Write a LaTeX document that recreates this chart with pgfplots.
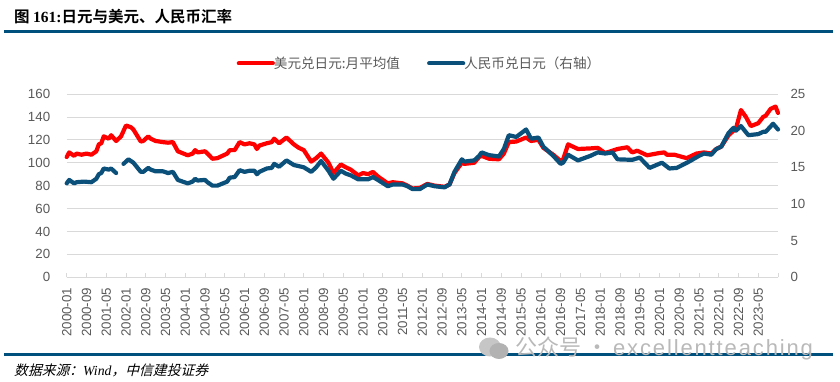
\documentclass[border=0pt]{standalone}
\usepackage{fontspec}
\setmainfont{Liberation Sans}
\newfontfamily\cjk{Noto Sans CJK SC}
\newfontfamily\cjkb{Noto Sans CJK SC Bold}
\newfontfamily\cjki[FakeSlant=0.25]{Noto Sans CJK SC}
\newfontfamily\seri{Liberation Serif}
\usepackage{pgfplots}
\usepackage{pgfplotstable}
\pgfplotsset{compat=1.18}
\definecolor{rulec}{HTML}{00507D}
\definecolor{bluec}{HTML}{0B4F7B}
\definecolor{gridc}{HTML}{D9D9D9}
\definecolor{textc}{HTML}{595959}
\pgfplotstableread{
m v
0 105
1 109
3 106
4 108
6 107
8 108
10 107
12 110
13 116
14 117
15 123
17 121
18 124
20 119
22 123
24 132.5
26 131
27 129
30 118.5
31 119
33 123
34 121
36 119
39 118
41 117.5
43 118
45 110
49 106.5
51 108
52 111
53 109
56 110
57 108
59 103.5
61 104
65 108
66 111
68 111
70 118
72 116
74 117
76 116
77 112
78 115
81 117
83 118
84 121
86 117
89 122
92 116
94 113
96 111
99 101
101 104
103 108
106 100
108 91
111 98.5
113 96
115 94
118 89
120 91
122 90
124 92
126 88
130 82
132 83
136 82
138 80
140 77.5
143 78
146 81.5
149 80
153 79
155 81
157 91
160 100
161 99
165 100
167 105
168 106
171 103.5
175 103
177 108
179 118
182 118.5
186 122
188 119
191 120
193 113
197 107
200 101.5
201 103
203 116
205 114
207 112
212 112.5
215 113
218 108.5
221 110.5
223 112
227 113.5
229 109
231 110.5
235 106.5
240 108.5
242 109
243 107
246 107
251 104
255 108
258 109
261 108
263 112
265 114
268 124
271 130
273 146
275 140
277 132
280 134.5
282 140
283 141
285 147
287 149
288 143.5
}\usdjpy
\pgfplotstableread{
m v
0 12.81
1 13.28
3 12.81
4 12.97
7 13.05
10 12.97
12 13.44
13 14.06
14 14.22
15 14.84
17 14.69
18 14.84
20 14.22
21 nan
23 15.47
25 16.09
27 15.63
30 14.38
31 14.38
33 14.92
34 14.69
36 14.45
39 14.45
41 14.22
43 14.38
45 13.28
49 12.81
51 13.05
52 13.44
53 13.20
56 13.28
57 12.97
59 12.50
61 12.50
65 13.05
66 13.59
68 13.67
70 14.61
72 14.38
74 14.53
76 14.53
77 14.06
78 14.38
81 14.84
83 14.92
84 15.47
86 15.08
89 15.94
92 15.31
94 15.16
96 15.00
99 14.38
101 15.00
103 15.86
106 14.53
108 13.44
111 14.53
113 14.14
115 13.91
118 13.36
120 13.36
122 13.36
124 13.67
126 13.28
130 12.42
132 12.66
136 12.66
138 12.42
140 12.03
143 12.03
146 12.66
149 12.42
153 12.27
155 12.66
157 14.38
160 16.09
161 15.78
165 15.94
167 16.56
168 17.03
171 16.66
175 16.48
177 17.50
179 19.38
182 19.14
186 20.16
188 18.91
191 19.06
193 17.81
197 16.56
200 15.47
201 15.63
203 16.72
207 15.94
212 16.56
215 17.03
218 16.88
221 17.03
223 16.09
229 16.02
232 16.33
236 14.92
241 15.63
244 14.84
247 14.92
252 15.78
256 16.56
258 16.88
261 16.72
263 17.50
265 17.81
268 19.69
270 20.39
271 20.00
273 20.63
276 19.38
280 19.53
282 19.84
283 19.84
286 20.94
288 20.16
}\cnyjpy
\begin{document}
\begin{tikzpicture}[x=1pt,y=1pt]
\path (0,0) rectangle (840,382);
% header and footer
\node[anchor=west,inner sep=0pt,font=\fontsize{15.5}{17}\selectfont] at (14,365)
  {{\cjkb 图 }{\seri\bfseries 161:}{\cjkb 日元与美元、人民币汇率}};
\fill[rulec] (4,349) rectangle (833,352);
\fill[rulec] (4,25.5) rectangle (833,28.5);
\node[anchor=west,inner sep=0pt,font=\fontsize{13.8}{16}\selectfont] at (14,12)
  {{\cjki 数据来源^^^^ff1a}{\seri\itshape Wind}{\cjki ^^^^ff0c中信建投证券}};
% watermark
\fill[gray!45] (490,35) ellipse (11 and 9.5);
\fill[gray!60] (499,31) ellipse (9.5 and 8);
\node[anchor=west,inner sep=0pt,text=gray!55,font=\fontsize{22}{24}\selectfont] at (515,34)
  {{\cjk 公众号 · }{\addfontfeatures{LetterSpace=8.5}excellentteaching}};
\begin{axis}[
  at={(66.7pt,104.7pt)},anchor=south west,
  scale only axis,width=711.3pt,height=183.3pt,
  xmin=0,xmax=288,ymin=0,ymax=160,
  axis x line*=bottom,axis y line*=left,
  y axis line style={draw=none},
  x axis line style={gridc,line width=0.8pt},
  ytick={0,20,...,160},
  ymajorgrids,grid style={gridc,line width=0.8pt},
  ytick style={draw=none},
  xtick={0,8,...,288},
  xticklabels={2000-01,2000-09,2001-05,2002-01,2002-09,2003-05,2004-01,2004-09,2005-05,2006-01,2006-09,2007-05,2008-01,2008-09,2009-05,2010-01,2010-09,2011-05,2012-01,2012-09,2013-05,2014-01,2014-09,2015-05,2016-01,2016-09,2017-05,2018-01,2018-09,2019-05,2020-01,2020-09,2021-05,2022-01,2022-09,2023-05,{}},
  x tick style={gridc,line width=0.8pt},
  tick align=inside,major tick length=4pt,
  xticklabel style={rotate=90,anchor=east,font=\fontsize{13.3}{15}\selectfont,text=textc,xshift=-7pt,yshift=0pt},
  yticklabel style={font=\fontsize{13.3}{15}\selectfont,text=textc,xshift=-13pt},
  /pgf/number format/assume math mode=true,
  clip=false,
]
\addplot[red,line width=4.2pt,line join=round,line cap=round] table[x=m,y=v] {\usdjpy};
\end{axis}
\begin{axis}[
  at={(66.7pt,104.7pt)},anchor=south west,
  scale only axis,width=711.3pt,height=183.3pt,
  xmin=0,xmax=288,ymin=0,ymax=25,
  axis x line=none,axis y line*=right,
  y axis line style={draw=none},
  ytick={0,5,...,25},
  ytick style={draw=none},
  yticklabel style={font=\fontsize{13.3}{15}\selectfont,text=textc,xshift=9pt,anchor=west},
  /pgf/number format/assume math mode=true,
  unbounded coords=jump,clip=false,
  legend columns=2,
  legend style={at={(0.496,1.167)},anchor=center,draw=none,fill=none,inner sep=0pt,
    font=\fontsize{13.6}{15}\selectfont,text=textc,
    /tikz/every even column/.style={column sep=25pt}},
  legend cell align=left,
  legend image code/.code={\draw[#1,line width=4.2pt,line cap=round] (0,0) -- (34pt,0);},
]
\addlegendimage{red}
\addlegendentry{\hspace{-3pt}{\cjk 美元兑日元:月平均值}}
\addplot[bluec,line width=4.2pt,line join=round,line cap=round] table[x=m,y=v] {\cnyjpy};
\addlegendentry{\hspace{-3pt}{\cjk 人民币兑日元^^^^ff08右轴^^^^ff09}}
\end{axis}
\end{tikzpicture}
\end{document}
